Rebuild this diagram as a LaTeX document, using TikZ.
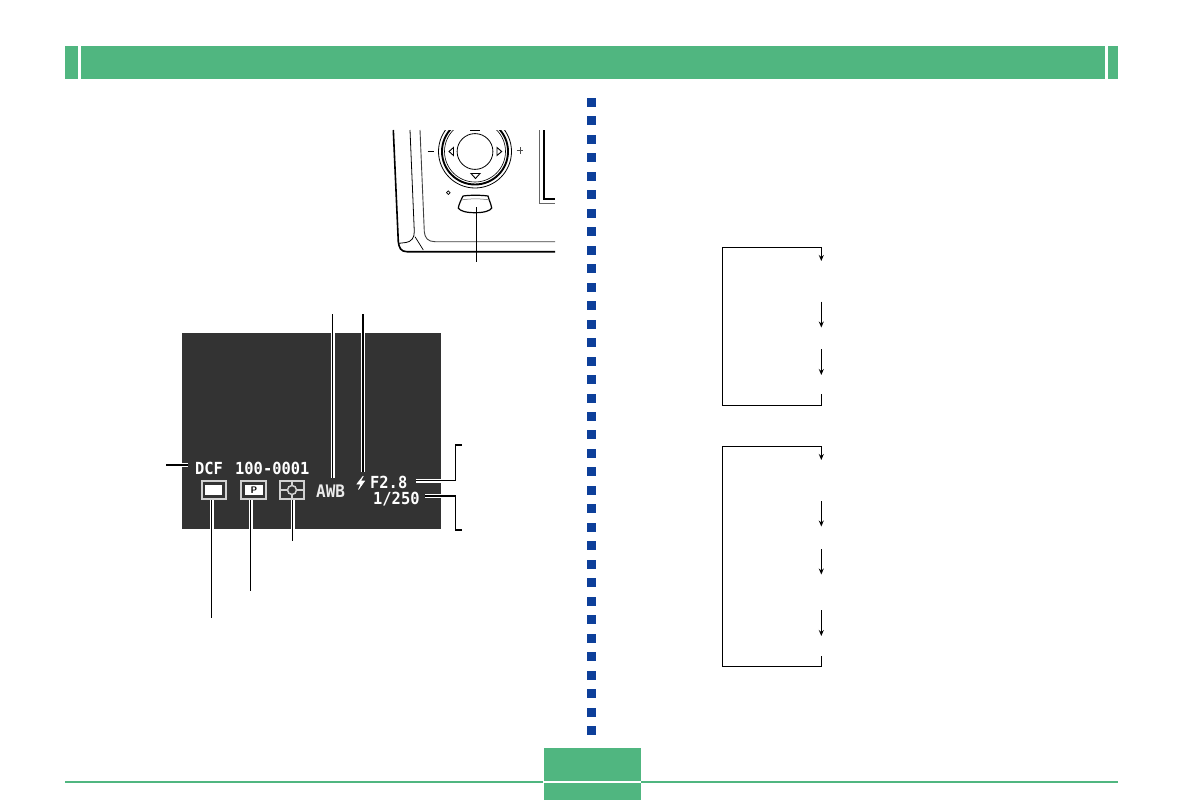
\documentclass[tikz,border=0pt]{standalone}
\usepackage{fontspec}
\usepackage{graphicx}
\usetikzlibrary{arrows.meta}
\newfontfamily\lcdfont{DejaVu Sans Mono}
\newcommand{\tallcd}[1]{\scalebox{1}[1.08]{#1}}
\definecolor{pagegreen}{RGB}{80,182,128}
\definecolor{pageblue}{RGB}{13,63,154}
\definecolor{paneldark}{RGB}{51,51,51}
\tikzset{
  leader/.style={draw=black, line width=1.3pt, preaction={draw=white, line width=4pt}},
  flowline/.style={draw=black, line width=1.1pt},
  flowarrow/.style={flowline, -{Stealth[length=6pt,width=5pt]}},
  lcd/.style={text=white, inner sep=0pt, anchor=base west, font=\lcdfont\bfseries\fontsize{15.4}{15.4}\selectfont},
  icon/.style={draw=white!82!black, line width=1.6pt, minimum width=24pt, minimum height=18pt, inner sep=0pt},
}
\begin{document}
\begin{tikzpicture}[x=1pt, y=-1pt]
  \useasboundingbox (0,0) rectangle (1183,800);
  % page header
  \fill[pagegreen] (65,46) rectangle (78,79);
  \fill[pagegreen] (81,46) rectangle (1105,79);
  \fill[pagegreen] (1108,46) rectangle (1118,79);
  % page footer
  \fill[pagegreen] (65,781) rectangle (543,783);
  \fill[pagegreen] (641,781) rectangle (1118,783);
  \fill[pagegreen] (544,748) rectangle (641,781);
  \fill[pagegreen] (544,783) rectangle (641,800);
  % column of squares
  \foreach \i in {0,...,34}
    \fill[pageblue] (587,98+\i*18.47) rectangle +(9,9);
  % camera back
  \begin{scope}
    \clip (385,130) rectangle (555,262);
    \draw[line width=0.8pt] (475,151.5) circle (36.5);
    \draw[line width=1.9pt] (475,151.5) circle (33);
    \draw[line width=0.6pt] (475,151.5) circle (30.5);
    \draw[line width=0.8pt] (475,151.5) circle (17.9);
  \end{scope}
  \draw[line width=1pt] (470,130) -- (480,130);
  \draw[line width=0.9pt] (449,151.5) -- (453.5,147.5) -- (453.5,155.5) -- cycle;
  \draw[line width=0.9pt] (501.7,151.5) -- (497,147.5) -- (497,155.5) -- cycle;
  \draw[line width=0.9pt] (475.5,178.5) -- (471,173.5) -- (480,173.5) -- cycle;
  \draw[line width=1pt] (427.5,151.3) -- (434,151.3);
  \draw[line width=0.5pt, black!70] (516.7,150.7) -- (523.3,150.7) (520,147.4) -- (520,154);
  \draw[line width=0.7pt] (448.3,190.9) -- (450.1,192.7) -- (448.3,194.5) -- (446.5,192.7) -- cycle;
  % shutter button
  \draw[line width=1.2pt] (463,196) .. controls (470,195) and (481,195) .. (488,196)
    .. controls (489,200) and (491,204) .. (491.7,208)
    .. controls (490,211) and (484,212.7) .. (475,212.7)
    .. controls (466,212.7) and (460,211) .. (458.3,208)
    .. controls (459,204) and (461,200) .. (463,196);
  \draw[line width=0.5pt, black!60] (461.5,200) .. controls (470,198.5) and (481,198.5) .. (489.5,200);
  % body outline
  \draw[line width=1.6pt] (393.3,130) -- (398.3,241.7) .. controls (399,248) and (401,251.7) .. (407,251.7) -- (555,251.7);
  \draw[line width=0.8pt] (410,130) -- (414.3,231.7) .. controls (414.5,238) and (411,241.7) .. (406,242.5) -- (399,243.3);
  \draw[line width=0.9pt, black!75] (420,130) -- (424.3,231.7) .. controls (424.8,238) and (428,241.7) .. (435,241.7) -- (555,241.7);
  \draw[line width=0.7pt] (415,236.7) -- (423.3,250);
  % screen corner
  \draw[line width=1pt, black!60] (539.3,130) -- (539.3,203.3) -- (555,203.3);
  \draw[line width=1.7pt] (544,130) -- (544,199) -- (555,199);
  % monitor panel
  \fill[paneldark] (182,333) rectangle (441,529);
  \node[lcd] (dcf) at (195,474) {\tallcd{DCF}};
  \node[lcd] (number) at (235,474) {\tallcd{100-0001}};
  \node[lcd, font=\lcdfont\bfseries\fontsize{16}{16}\selectfont, text=white!92!black] (awb) at (316,497) {\tallcd{AWB}};
  \node[lcd] (fstop) at (370,488.5) {\tallcd{F2.8}};
  \node[lcd] (shutter) at (373,504.5) {\tallcd{1/250}};
  \filldraw[white, line width=0.7pt] (363.3,476) -- (357,484) -- (361,484) -- (358.5,489.5) -- (364.5,481) -- (360.5,481) -- cycle;
  % icons
  \node[icon] (frameicon) at (214,490) {};
  \fill[white] (205,485) rectangle (222,495);
  \node[icon, minimum width=25pt] (progicon) at (253.5,490) {};
  \fill[white] (245,485) rectangle (263,494.5);
  \node[inner sep=0pt, font=\sffamily\bfseries\fontsize{9.5}{9.5}\selectfont, text=black] (progmark) at (254,489.8) {P};
  \node[icon] (metericon) at (292,490) {};
  \node[draw=white!82!black, line width=1.5pt, circle, minimum size=9pt, inner sep=0pt] (meterspot) at (292,490) {};
  \draw[white!82!black, line width=1.5pt] (metericon.west) -- (meterspot.west) (meterspot.east) -- (metericon.east)
    (metericon.north) -- (meterspot.north) (meterspot.south) -- (metericon.south);
  % leaders
  \coordinate (buttonend) at (476.7,262);
  \coordinate (buttontop) at (476.7,207);
  \draw[line width=1.2pt] (buttontop) -- (buttonend);
  \coordinate (dcfend) at (166,465);
  \coordinate (dcfstart) at (188,465);
  \draw[leader] (dcfend) -- (dcfstart);
  \coordinate (awbend) at (332.7,314);
  \coordinate (awbstart) at (332.7,478);
  \draw[leader] (awbend) -- (awbstart);
  \coordinate (flashend) at (363,314);
  \coordinate (flashstart) at (363,472);
  \draw[leader] (flashend) -- (flashstart);
  \coordinate (frameend) at (211.7,617.7);
  \draw[leader] (frameicon.south -| frameend) -- (frameend);
  \coordinate (progend) at (250.7,590.7);
  \draw[leader] (progicon.south -| progend) -- (progend);
  \coordinate (meterend) at (292.7,540.7);
  \draw[leader] (metericon.south -| meterend) -- (meterend);
  \coordinate (fstopend) at (462,445);
  \coordinate (fstopstart) at (415.5,480.5);
  \draw[leader] (fstopstart) -- (455.7,480.5) -- (455.7,445) -- (fstopend);
  \coordinate (shutterend) at (462,530);
  \coordinate (shutterstart) at (425,496);
  \draw[leader] (shutterstart) -- (455.7,496) -- (455.7,530) -- (shutterend);
  % first flow frame
  \coordinate (uppertop) at (821.3,247.3);
  \coordinate (upperbase) at (821.3,405.3);
  \draw[flowline] (821.3,394) -- (upperbase) -- (722.3,405.3) -- (722.3,247.3) -- (uppertop);
  \draw[flowarrow] (uppertop) -- (821.3,261);
  \draw[flowarrow] (821.3,301.7) -- (821.3,327.5);
  \draw[flowarrow] (821.3,349) -- (821.3,375);
  % second flow frame
  \coordinate (lowertop) at (821.3,446.3);
  \coordinate (lowerbase) at (821.3,666.6);
  \draw[flowline] (821.3,656) -- (lowerbase) -- (722.3,666.6) -- (722.3,446.3) -- (lowertop);
  \draw[flowarrow] (lowertop) -- (821.3,460);
  \draw[flowarrow] (821.3,501) -- (821.3,526.5);
  \draw[flowarrow] (821.3,549) -- (821.3,574.5);
  \draw[flowarrow] (821.3,610) -- (821.3,636);
\end{tikzpicture}
\end{document}
